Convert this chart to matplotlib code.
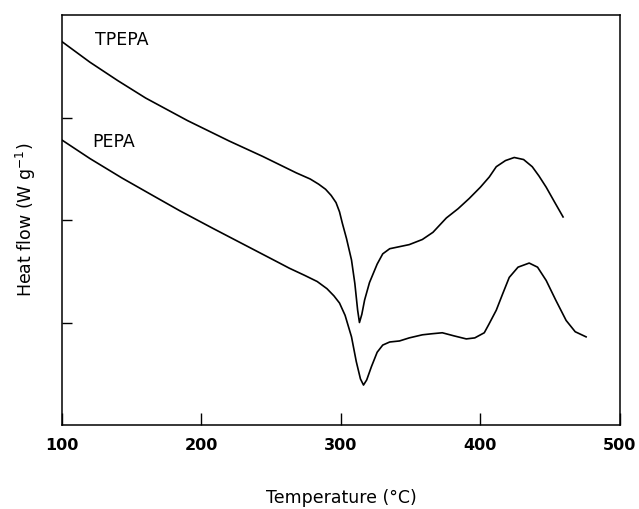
import matplotlib
matplotlib.use("Agg")
import matplotlib.pyplot as plt

# Temperature (°C) and heat flow (arbitrary units)
tpepa_T = [100, 120, 140, 160, 190, 220, 244, 256, 268, 278, 284, 289, 293, 296.5, 299,
           301, 304, 307.6, 310, 312, 313.3, 315, 317, 320.5, 326, 330, 335, 342, 349,
           358.4, 366, 375.6, 384, 392, 400, 406.4, 411.4, 418, 424.3, 431, 437.2, 442,
           447.2, 453, 459.3]
tpepa_H = [3.74, 3.54, 3.36, 3.19, 2.97, 2.77, 2.62, 2.54, 2.46, 2.40, 2.35, 2.30, 2.24,
           2.17, 2.08, 1.97, 1.82, 1.61, 1.38, 1.12, 1.00, 1.08, 1.22, 1.39, 1.57, 1.67,
           1.72, 1.74, 1.76, 1.81, 1.88, 2.02, 2.11, 2.21, 2.32, 2.42, 2.52, 2.58, 2.61,
           2.59, 2.52, 2.43, 2.32, 2.18, 2.03]

pepa_T = [100, 120, 143, 165, 184.5, 208, 232, 256, 263, 274, 283, 290, 295, 299, 303,
          307.6, 311, 314, 316.2, 318.5, 321.9, 326, 330, 335, 342, 349, 358.4, 365, 372.7,
          381, 389.9, 396, 402.8, 406, 411.4, 416, 420.7, 427, 435, 441, 447.2, 454,
          461.5, 468, 475.8]
pepa_H = [2.78, 2.60, 2.41, 2.24, 2.09, 1.92, 1.75, 1.58, 1.53, 1.46, 1.40, 1.33, 1.26,
          1.19, 1.07, 0.86, 0.62, 0.45, 0.39, 0.44, 0.57, 0.71, 0.78, 0.81, 0.82, 0.85,
          0.88, 0.89, 0.90, 0.87, 0.84, 0.85, 0.90, 0.98, 1.12, 1.28, 1.44, 1.54, 1.58,
          1.54, 1.41, 1.22, 1.02, 0.91, 0.86]

x_ticks = [100, 200, 300, 400, 500]
y_ticks = [1, 2, 3]

fig = plt.figure(figsize=(6.39, 5.09), dpi=100)
ax = fig.add_axes([0.097, 0.165, 0.873, 0.8055])

ax.plot(tpepa_T, tpepa_H, color="black", lw=1.2)
ax.plot(pepa_T, pepa_H, color="black", lw=1.2)

ax.text(123.6, 3.76, "TPEPA", fontsize=12.5, va="center", ha="left")
ax.text(121.5, 2.76, "PEPA", fontsize=12.5, va="center", ha="left")

ax.set_xlim(100, 500)
ax.set_ylim(0, 4.0)
ax.set_xticks(x_ticks)
ax.set_xticklabels([str(t) for t in x_ticks], fontsize=11.5, fontweight="bold")
ax.set_yticks(y_ticks)
ax.set_yticklabels([])
ax.tick_params(axis="x", direction="in", length=8.5, width=1.0, pad=9)
ax.tick_params(axis="y", direction="in", length=7, width=1.0)
for s in ax.spines.values():
    s.set_linewidth(1.1)

ax.set_xlabel("Temperature (°C)", fontsize=12.5, labelpad=26)
ax.set_ylabel("Heat flow (W g$^{-1}$)", fontsize=12.5, labelpad=14)

fig.savefig("out.png", dpi=100)
